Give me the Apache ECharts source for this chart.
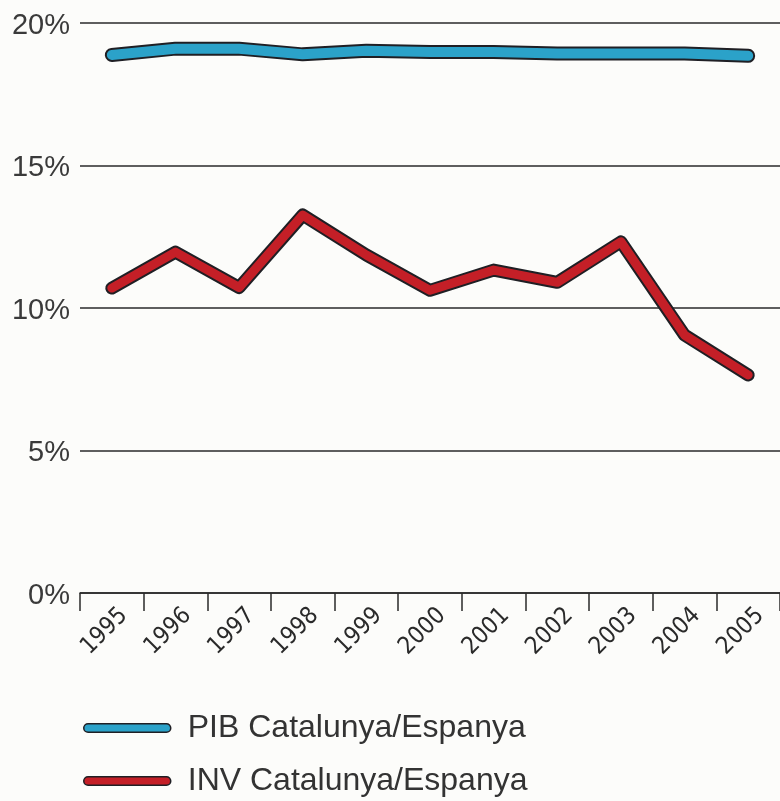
<!DOCTYPE html>
<html>
<head>
<meta charset="utf-8">
<script src="https://cdn.jsdelivr.net/npm/echarts@6/dist/echarts.min.js"></script>
<style>
  html, body { margin: 0; padding: 0; background: #fcfcfa; }
  #chart { width: 780px; height: 801px; }
</style>
</head>
<body>
<div id="chart"></div>
<script>
// dades llegides del gràfic
const years = ['1995', '1996', '1997', '1998', '1999', '2000', '2001', '2002', '2003', '2004', '2005'];
const pibValues = [18.88, 19.1, 19.1, 18.9, 19.03, 18.98, 18.98, 18.93, 18.93, 18.93, 18.85];
const invValues = [10.7, 11.96, 10.72, 13.26, 11.86, 10.62, 11.33, 10.9, 12.32, 9.05, 7.65];
const yTicks = [0, 5, 10, 15, 20];

const pibName = 'PIB Catalunya/Espanya';
const invName = 'INV Catalunya/Espanya';

const outlineColor = '#1f1f24';
const pibColor = '#2ba2c9';
const invColor = '#c41f27';
const capsule = 'path://M5,0 L95,0 A5,5 0 0 1 95,10 L5,10 A5,5 0 0 1 5,0 Z';

const chart = echarts.init(document.getElementById('chart'));

function lineSeries(name, data, color, width, z) {
    return {
        name: name,
        type: 'line',
        data: data,
        symbol: 'none',
        smooth: false,
        z: z,
        lineStyle: { color: color, width: width, cap: 'round', join: 'round' },
        itemStyle: { color: color },
        emphasis: { disabled: true },
        silent: true
    };
}

function legendFor(name, top) {
    return {
        data: [name],
        orient: 'vertical',
        left: 83,
        top: top,
        padding: 0,
        itemWidth: 87,
        itemHeight: 11,
        icon: capsule,
        selectedMode: false,
        itemStyle: { borderColor: outlineColor, borderWidth: 1.5 },
        textStyle: {
            fontFamily: 'Liberation Sans, Arial, sans-serif',
            fontSize: 32,
            color: '#333',
            padding: [0, 0, 0, 12]
        }
    };
}

const option = {
    backgroundColor: '#fcfcfa',
    animation: false,
    grid: { left: 80, right: -2, top: 23, bottom: 208 },
    legend: [legendFor(pibName, 712), legendFor(invName, 765)],
    xAxis: {
        type: 'category',
        data: years,
        boundaryGap: true,
        axisLine: { show: true, lineStyle: { color: '#2a2a2a', width: 1.5 } },
        axisTick: { show: true, interval: 0, length: 18, lineStyle: { color: '#2a2a2a', width: 1.5 } },
        axisLabel: {
            interval: 0,
            rotate: 45,
            margin: 31,
            padding: [0, -17, 0, 0],
            fontFamily: 'DejaVu Sans Condensed, Liberation Sans Narrow, sans-serif',
            fontSize: 24,
            color: '#2a2a2a'
        },
        splitLine: { show: false }
    },
    yAxis: {
        type: 'value',
        min: yTicks[0],
        max: yTicks[yTicks.length - 1],
        interval: yTicks[1] - yTicks[0],
        axisLine: { show: false },
        axisTick: { show: false },
        axisLabel: {
            margin: 10,
            verticalAlign: 'top',
            padding: [-12, 0, 0, 0],
            formatter: '{value}%',
            fontFamily: 'Liberation Sans, Arial, sans-serif',
            fontSize: 29,
            color: '#3a3a3a'
        },
        splitLine: { show: true, lineStyle: { color: '#2a2a2a', width: 1.5 } }
    },
    series: [
        lineSeries('pib-outline', pibValues, outlineColor, 14, 2),
        lineSeries(pibName, pibValues, pibColor, 10, 3),
        lineSeries('inv-outline', invValues, outlineColor, 13, 2),
        lineSeries(invName, invValues, invColor, 9, 3)
    ]
};

chart.setOption(option);
</script>
</body>
</html>
